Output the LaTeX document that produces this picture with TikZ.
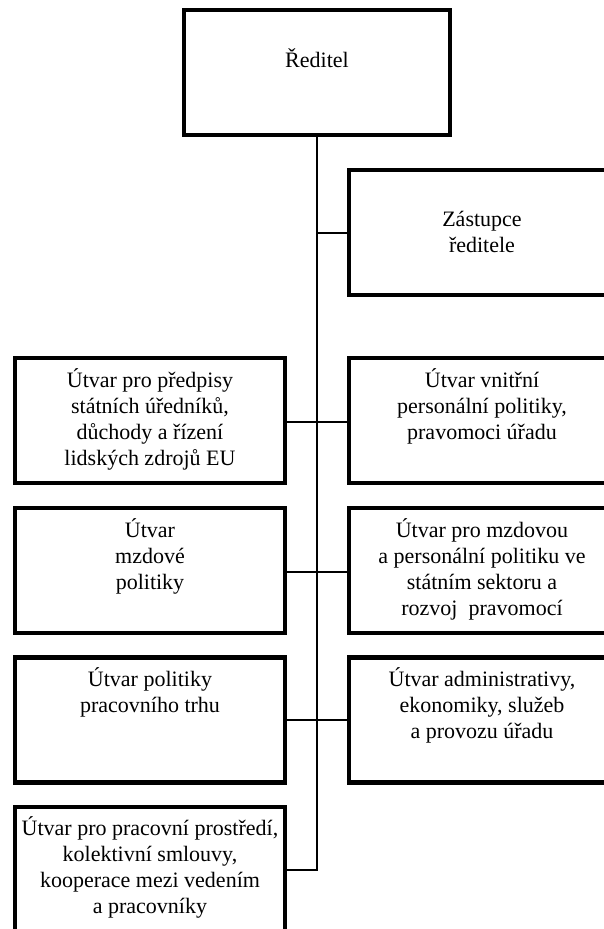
\documentclass[tikz,border=0pt]{standalone}
\usepackage{fontspec}
\setmainfont{Liberation Serif}
\newcommand\boxfont{\fontsize{22pt}{26pt}\selectfont}
\begin{document}
\begin{tikzpicture}[x=1pt,y=-1pt,
  unitbox/.style={draw=black, line width=4.5pt, rectangle, inner sep=0pt, outer sep=0pt,
                  minimum height=125pt},
  leftbox/.style={unitbox, minimum width=270pt},
  rightbox/.style={unitbox, minimum width=266pt},
  topbox/.style={unitbox, minimum width=266pt},
  txt/.style={anchor=base, inner sep=0pt, font=\boxfont},
  conn/.style={draw=black, line width=2pt}]
  \useasboundingbox[fill=white] (0,0) rectangle (603,929);

  % boxes (centres given; tops at 10, 170, 358, 508, 657.5, 807)
  \node[topbox]   (dir) at (317,72.5)   {};
  \node[rightbox] (za)  at (482,232.5)  {};
  \node[leftbox]  (l1)  at (150,420.5)  {};
  \node[rightbox] (r1)  at (482,420.5)  {};
  \node[leftbox]  (l2)  at (150,570.5)  {};
  \node[rightbox] (r2)  at (482,570.5)  {};
  \node[leftbox]  (l3)  at (150,720)    {};
  \node[rightbox] (r3)  at (482,720)    {};
  \node[leftbox]  (l4)  at (150,869.5)  {};

  % labels, first baseline below the top edge
  \node[txt] (dir-t) at ([yshift=-57pt]dir.north) {\parbox[t]{250pt}{\centering Ředitel}};
  \node[txt] (za-t)  at ([yshift=-56pt]za.north)  {\parbox[t]{250pt}{\centering Zástupce\\ředitele}};
  \node[txt] (l1-t)  at ([yshift=-29pt]l1.north)  {\parbox[t]{260pt}{\centering Útvar pro předpisy\\státních úředníků,\\důchody a řízení\\lidských zdrojů EU}};
  \node[txt] (r1-t)  at ([yshift=-29pt]r1.north)  {\parbox[t]{256pt}{\centering Útvar vnitřní\\personální politiky,\\pravomoci úřadu}};
  \node[txt] (l2-t)  at ([yshift=-29pt]l2.north)  {\parbox[t]{260pt}{\centering Útvar\\mzdové\\politiky}};
  \node[txt] (r2-t)  at ([yshift=-29pt]r2.north)  {\parbox[t]{256pt}{\centering Útvar pro mzdovou\\a personální politiku ve\\státním sektoru a\\rozvoj~ pravomocí}};
  \node[txt] (l3-t)  at ([yshift=-29pt]l3.north)  {\parbox[t]{260pt}{\centering Útvar politiky\\pracovního trhu}};
  \node[txt] (r3-t)  at ([yshift=-29pt]r3.north)  {\parbox[t]{256pt}{\centering Útvar administrativy,\\ekonomiky, služeb\\a provozu úřadu}};
  \node[txt] (l4-t)  at ([yshift=-28pt]l4.north)  {\parbox[t]{270pt}{\centering Útvar pro pracovní prostředí,\\kolektivní smlouvy,\\kooperace mezi vedením\\a pracovníky}};

  % spine and branches
  \coordinate (spine-end) at (317,869.5);
  \draw[conn] (dir.south) -- (spine-end) -- (l4.east);
  \draw[conn] (dir.south |- za.west) -- (za.west);
  \draw[conn] ([yshift=-1.5pt]l1.east) -- ([yshift=-1.5pt]r1.west);
  \draw[conn] ([yshift=-1.5pt]l2.east) -- ([yshift=-1.5pt]r2.west);
  \draw[conn] (l3.east) -- (r3.west);
\end{tikzpicture}
\end{document}
